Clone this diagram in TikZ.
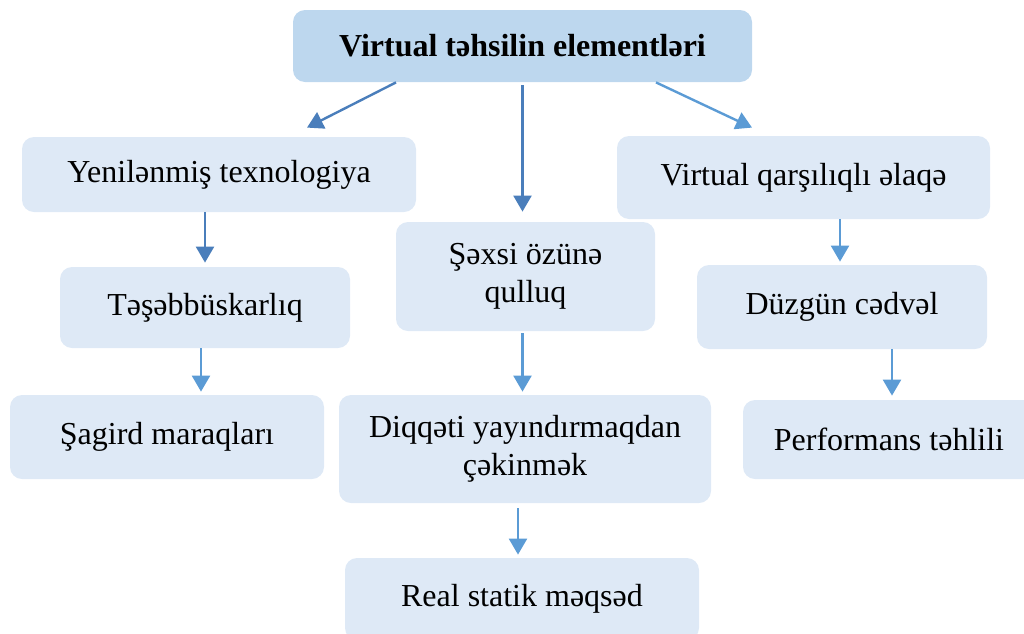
\documentclass[tikz,border=0pt]{standalone}
\usepackage{fontspec}
\setmainfont{Liberation Serif}
\usepackage{tikz}
\usetikzlibrary{arrows.meta,positioning,calc}
\definecolor{headfill}{RGB}{189,215,238}
\definecolor{itemfill}{RGB}{222,233,246}
\definecolor{deeparrow}{RGB}{74,126,187}
\definecolor{lightarrow}{RGB}{91,155,213}

\begin{document}
\begin{tikzpicture}[x=0.5pt,y=-0.5pt,
    every node/.style={align=center,font=\fontsize{16}{19}\selectfont},
    itembox/.style={rounded corners=6pt,fill=itemfill,inner sep=0pt},
    headbox/.style={rounded corners=6pt,fill=headfill,inner sep=0pt,font=\fontsize{16}{19}\selectfont\bfseries},
    link/.style={-{Triangle[length=8pt,width=9pt]},line width=1.2pt,deeparrow},
    lightlink/.style={link,lightarrow}]
  \useasboundingbox (0,0) rectangle (1024,633);
  % title
  \node[headbox,minimum width=229.5pt,minimum height=36pt] (head) at (522.5,46) {Virtual təhsilin elementləri};
  % left column
  \node[itembox,minimum width=197pt,minimum height=37.5pt] (tech) at (219,174.5) {Yenilənmiş texnologiya};
  \node[itembox,minimum width=145pt,minimum height=40.5pt] (init) at (205,307.5) {Təşəbbüskarlıq};
  \node[itembox,minimum width=157pt,minimum height=42pt] (pupil) at (167,437) {Şagird maraqları};
  % middle column
  \node[itembox,minimum width=129.5pt,minimum height=54.5pt] (self) at (525.5,276.5) {Şəxsi özünə\\qulluq};
  \node[itembox,minimum width=186pt,minimum height=54pt] (focus) at (525,449) {Diqqəti yayındırmaqdan\\çəkinmək};
  \node[itembox,minimum width=177pt,minimum height=41pt] (goal) at (522,599) {Real statik məqsəd};
  % right column
  \node[itembox,minimum width=186.5pt,minimum height=41.5pt] (inter) at (803.5,177.5) {Virtual qarşılıqlı əlaqə};
  \node[itembox,minimum width=145pt,minimum height=42pt] (plan) at (842,307) {Düzgün cədvəl};
  \node[itembox,minimum width=146pt,minimum height=39.5pt] (perf) at (889,439.5) {Performans təhlili};

  \draw[link] ([xshift=-63.25pt]head.south) -- ([xshift=44pt,yshift=4.5pt]tech.north);
  \draw[link,shorten <=1.5pt,shorten >=5pt] (head.south) -- (head.south |- self.north);
  \draw[lightlink] ([xshift=66.75pt]head.south) -- ([xshift=-25.75pt,yshift=4pt]inter.north);
  \draw[link,shorten >=2pt] (init.north |- tech.south) -- (init.north);
  \draw[lightlink,shorten >=1.5pt] ([xshift=-2pt]init.south) -- ([xshift=-2pt]init.south |- pupil.north);
  \draw[lightlink,shorten <=1pt,shorten >=1.5pt] ([xshift=-1.5pt]self.south) -- ([xshift=-1.5pt]self.south |- focus.north);
  \draw[lightlink,shorten <=2.5pt,shorten >=1.5pt] ([xshift=-3.5pt]focus.south) -- ([xshift=-3.5pt]focus.south |- goal.north);
  \draw[lightlink,shorten >=1.5pt] ([xshift=-1pt]plan.north |- inter.south) -- ([xshift=-1pt]plan.north);
  \draw[lightlink,shorten >=2pt] ([xshift=1.5pt]perf.north |- plan.south) -- ([xshift=1.5pt]perf.north);
\end{tikzpicture}
\end{document}
